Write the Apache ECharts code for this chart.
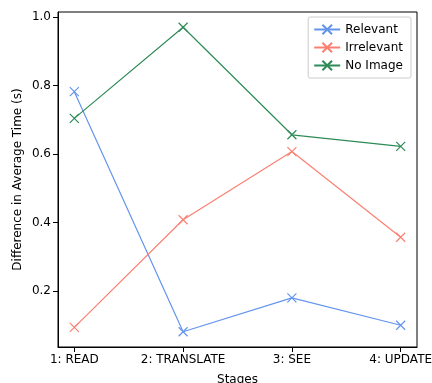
<!DOCTYPE html>
<html>
<head>
<meta charset="utf-8">
<script src="https://cdn.jsdelivr.net/npm/echarts@6/dist/echarts.min.js"></script>
<style>
  html, body { margin: 0; padding: 0; background: #fff; }
  #chart { width: 432px; height: 383px; }
</style>
</head>
<body>
<div id="chart"></div>
<script>
const stages = ["1: READ", "2: TRANSLATE", "3: SEE", "4: UPDATE"];
const relevant = [0.782, 0.081, 0.180, 0.100];
const irrelevant = [0.094, 0.408, 0.607, 0.357];
const noImage = [0.704, 0.970, 0.656, 0.622];
const yTicks = [0.2, 0.4, 0.6, 0.8, 1.0];
const xTicks = [0, 1, 2, 3];

const font = "DejaVu Sans";
const xMark = "path://M0,0L10,10M10,0L0,10";

function makeSeries(name, values, color) {
  return {
    name: name,
    type: "line",
    data: values.map((v, i) => [i, v]),
    symbol: xMark,
    symbolSize: 9,
    showSymbol: true,
    lineStyle: { color: color, width: 1.2 },
    itemStyle: { color: "none", borderColor: color, borderWidth: 1.2 }
  };
}

const chart = echarts.init(document.getElementById("chart"));
chart.setOption({
  animation: false,
  textStyle: { fontFamily: font },
  grid: {
    left: 58, right: 15, top: 12, bottom: 36,
    containLabel: false,
    outerBoundsMode: "none",
    show: true, borderColor: "#000", borderWidth: 1
  },
  legend: {
    orient: "vertical",
    right: 21,
    top: 17,
    padding: [5, 8, 5, 5],
    itemWidth: 26,
    itemHeight: 12,
    itemGap: 3,
    borderColor: "#cccccc",
    borderWidth: 1,
    borderRadius: 2,
    textStyle: { fontFamily: font, fontSize: 12, color: "#000", lineHeight: 15 },
    data: ["Relevant", "Irrelevant", "No Image"]
  },
  xAxis: {
    type: "value",
    min: -0.15,
    max: 3.15,
    name: "Stages",
    nameLocation: "middle",
    nameGap: 27,
    nameMoveOverlap: false,
    nameTextStyle: { fontFamily: font, fontSize: 12, color: "#000" },
    splitLine: { show: false },
    axisLine: { show: true, onZero: false, lineStyle: { color: "#000", width: 1 } },
    axisTick: { show: true, inside: false, customValues: xTicks, length: 5, lineStyle: { color: "#000" } },
    axisLabel: {
      customValues: xTicks,
      formatter: v => stages[Math.round(v)],
      fontFamily: font, fontSize: 12, color: "#000", margin: 7
    }
  },
  yAxis: {
    type: "value",
    min: 0.0365,
    max: 1.0145,
    name: "Difference in Average Time (s)",
    nameLocation: "middle",
    nameGap: 34,
    nameMoveOverlap: false,
    nameTextStyle: { fontFamily: font, fontSize: 12, color: "#000" },
    splitLine: { show: false },
    axisLine: { show: true, onZero: false, lineStyle: { color: "#000", width: 1 } },
    axisTick: { show: true, inside: false, customValues: yTicks, length: 5, lineStyle: { color: "#000" } },
    axisLabel: {
      customValues: yTicks,
      formatter: v => v.toFixed(1),
      fontFamily: font, fontSize: 12, color: "#000", margin: 7
    }
  },
  series: [
    makeSeries("Relevant", relevant, "#6495ED"),
    makeSeries("Irrelevant", irrelevant, "#FA8072"),
    makeSeries("No Image", noImage, "#2E8B57")
  ]
});
</script>
</body>
</html>
